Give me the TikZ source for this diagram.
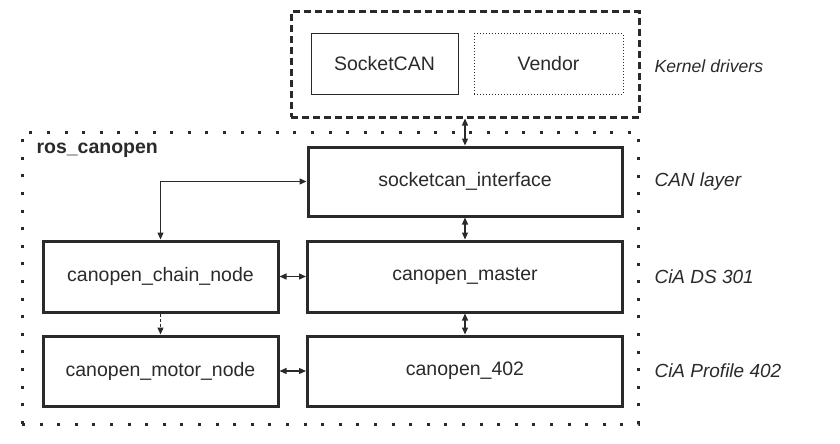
\documentclass[tikz,border=0pt]{standalone}
\usepackage{fontspec}
\setmainfont{Liberation Sans}
\usetikzlibrary{arrows.meta}
\definecolor{ink}{HTML}{2A2A2A}
\begin{document}
\begin{tikzpicture}[x=1pt,y=-1pt,
  every node/.style={text=ink, font=\fontsize{19.5}{23}\selectfont},
  block/.style={draw=ink, line width=3pt, rectangle, inner sep=0pt},
  thinbox/.style={draw=ink, line width=1pt, rectangle, inner sep=0pt},
  layerlabel/.style={anchor=west, font=\fontsize{19}{23}\selectfont\itshape},
  conn/.style={draw=ink, line width=1.2pt, {Triangle[length=7pt,width=6pt]}-{Triangle[length=7pt,width=6pt]}},
  oneway/.style={draw=ink, line width=1.2pt, -{Triangle[length=7pt,width=6pt]}}
]
\useasboundingbox (0,0) rectangle (840,444);
% containers
\node[draw=ink, line width=3pt, dash pattern=on 3pt off 14.6pt, minimum width=616pt, minimum height=292pt, inner sep=0pt] (ros) at (330,278) {};
\node[draw=ink, line width=3pt, dash pattern=on 7pt off 4pt, minimum width=348pt, minimum height=105pt, inner sep=0pt] (kernel) at (465,64.5) {};
% kernel drivers
\node[thinbox, minimum width=147pt, minimum height=60pt] (scan) at (384.5,64) {SocketCAN};
\node[thinbox, dotted, minimum width=149pt, minimum height=60pt] (vendor) at (548.5,64) {Vendor};
% blocks
\node[block, minimum width=314pt, minimum height=69pt] (sif) at (465,181.5) {socketcan\_interface};
\node[block, minimum width=315pt, minimum height=71pt] (master) at (465,276.5) {canopen\_master};
\node[block, minimum width=315pt, minimum height=70pt] (p402) at (465,371) {canopen\_402};
\node[block, minimum width=235pt, minimum height=71pt] (chain) at (160.5,276.5) {canopen\_chain\_node};
\node[block, minimum width=235pt, minimum height=70pt] (motor) at (160.5,371) {canopen\_motor\_node};
% labels
\node[anchor=west, font=\fontsize{19.5}{23}\selectfont\bfseries] (roslabel) at (33,150) {ros\_canopen};
\node[layerlabel, font=\fontsize{17.6}{21}\selectfont\itshape] (klabel) at (651,66) {Kernel drivers};
\node[layerlabel] (canlabel) at (651,181.5) {CAN layer};
\node[layerlabel] (dslabel) at (651,276.5) {CiA DS 301};
\node[layerlabel] (plabel) at (651,371) {CiA Profile 402};
% connectors
\draw[conn] (kernel.south) -- (sif.north);
\draw[conn] (sif.south) -- (master.north);
\draw[conn] (master.south) -- (p402.north);
\draw[conn] (chain.east) -- (master.west);
\draw[conn] (motor.east) -- (p402.west);
\draw[conn] (sif.west) -| (chain.north);
\draw[oneway, densely dashed] (chain.south) -- (motor.north);
\end{tikzpicture}
\end{document}
